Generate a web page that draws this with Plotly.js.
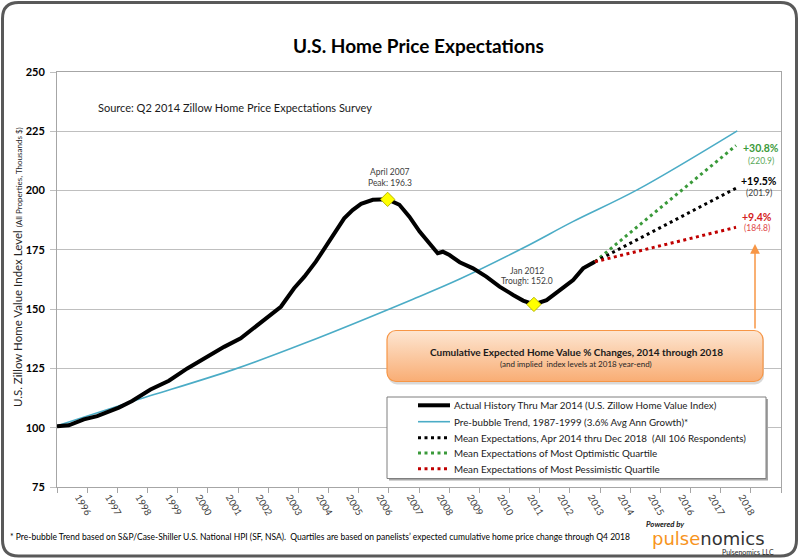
<!DOCTYPE html>
<html>
<head>
<meta charset="utf-8">
<script src="https://cdn.plot.ly/plotly-3.0.1.min.js"></script>
<style>
  html, body { margin: 0; padding: 0; background: #fff; }
  #chart { width: 800px; height: 559px; }
</style>
</head>
<body>
<div id="chart"></div>
<script>
// values (x in decimal years on the chart's axis)
const histYears = [1996.00, 1996.39, 1996.89, 1997.33, 1998.05, 1998.49, 1999.10, 1999.71, 2000.32, 2000.87,
  2001.54, 2002.09, 2002.64, 2003.42, 2003.86, 2004.20, 2004.58, 2005.03, 2005.52, 2005.80,
  2006.08, 2006.47, 2006.80, 2006.96, 2007.35, 2007.68, 2008.02, 2008.35, 2008.62, 2008.79,
  2009.01, 2009.35, 2009.79, 2010.23, 2010.67, 2011.12, 2011.45, 2011.81, 2012.23, 2012.67,
  2013.11, 2013.44, 2013.83];
const histValues = [100.6, 101.0, 103.5, 104.9, 108.5, 111.3, 116.1, 119.8, 125.0, 129.2,
  134.1, 137.7, 143.3, 151.0, 158.8, 163.7, 170.0, 179.1, 188.3, 191.8,
  194.4, 196.1, 196.1, 196.3, 194.0, 189.0, 182.7, 177.8, 173.6, 174.2,
  172.8, 169.8, 167.2, 163.7, 159.5, 156.0, 153.6, 152.0, 153.8, 158.0,
  162.3, 167.2, 170.0];

const trendYears = [1996.00, 1998.55, 2001.87, 2004.20, 2007.78, 2009.35, 2011.50, 2013.10, 2015.23, 2018.55];
const trendValues = [100.8, 111.3, 124.6, 135.6, 154.1, 162.7, 176.1, 186.9, 200.3, 225.2];

const forecastYears = [2013.83, 2018.51];
const meanValues = [170.0, 201.0];
const optimisticValues = [170.0, 219.0];
const pessimisticValues = [170.0, 184.5];

const markerYears = [2006.96, 2011.81];
const markerValues = [196.3, 152.0];

const yearLabels = ['1996', '1997', '1998', '1999', '2000', '2001', '2002', '2003', '2004', '2005', '2006',
  '2007', '2008', '2009', '2010', '2011', '2012', '2013', '2014', '2015', '2016', '2017', '2018'];
const yearBoundaries = [1996, 1997, 1998, 1999, 2000, 2001, 2002, 2003, 2004, 2005, 2006, 2007, 2008,
  2009, 2010, 2011, 2012, 2013, 2014, 2015, 2016, 2017, 2018, 2019, 2020];

const legendNames = [
  'Actual History Thru Mar 2014 (U.S. Zillow Home Value Index)',
  'Pre-bubble Trend, 1987-1999 (3.6% Avg Ann Growth)*',
  'Mean Expectations, Apr 2014 thru Dec 2018 \u00a0(All 106 Respondents)',
  'Mean Expectations of Most Optimistic Quartile',
  'Mean Expectations of Most Pessimistic Quartile'
];
const pctLabels = ['+30.8%', '+19.5%', '+9.4%'];
const levelLabels = ['(220.9)', '(201.9)', '(184.8)'];

const FONT = 'Lato, "Open Sans", sans-serif';
const W = 800, H = 559;
const M = { l: 57, r: 19, t: 72, b: 72 };
const plotW = W - M.l - M.r;
const plotH = H - M.t - M.b;
const px = (x) => (x - M.l) / plotW;
const py = (y) => (H - M.b - y) / plotH;

const lineHist = { color: '#000000', width: 4 };
const lineTrend = { color: '#4bacc6', width: 1.6, shape: 'spline' };
const lineMean = { color: '#000000', width: 3, dash: '3px,3.5px' };
const lineOpt = { color: '#3a9a3a', width: 3, dash: '3px,3.5px' };
const linePess = { color: '#c00000', width: 3, dash: '3px,3.5px' };

const traces = [
  { x: trendYears, y: trendValues, mode: 'lines', line: lineTrend, hoverinfo: 'skip' },
  { x: histYears, y: histValues, mode: 'lines', line: lineHist, hoverinfo: 'skip' },
  { x: forecastYears, y: optimisticValues, mode: 'lines', line: lineOpt, hoverinfo: 'skip' },
  { x: forecastYears, y: meanValues, mode: 'lines', line: lineMean, hoverinfo: 'skip' },
  { x: forecastYears, y: pessimisticValues, mode: 'lines', line: linePess, hoverinfo: 'skip' },
  {
    x: markerYears, y: markerValues, mode: 'markers', hoverinfo: 'skip',
    marker: { symbol: 'diamond', size: 11, color: '#ffff00', line: { color: '#b8b800', width: 1 } }
  }
];

const roundRect = (x0, y0, x1, y1, r) => {
  const p = (x, y) => px(x) + ',' + py(y);
  return 'M' + p(x0 + r, y0) + ' L' + p(x1 - r, y0) + ' Q' + p(x1, y0) + ' ' + p(x1, y0 + r) +
    ' L' + p(x1, y1 - r) + ' Q' + p(x1, y1) + ' ' + p(x1 - r, y1) +
    ' L' + p(x0 + r, y1) + ' Q' + p(x0, y1) + ' ' + p(x0, y1 - r) +
    ' L' + p(x0, y0 + r) + ' Q' + p(x0, y0) + ' ' + p(x0 + r, y0) + ' Z';
};

const ann = (x, y, text, font, opts = {}) => Object.assign({
  xref: 'paper', yref: 'paper', x: px(x), y: py(y), text, showarrow: false,
  xanchor: 'center', yanchor: 'middle', font: Object.assign({ family: FONT, size: 10, color: '#000' }, font)
}, opts);

const shapes = [
  // outer frame
  { type: 'path', xref: 'paper', yref: 'paper', layer: 'above', path: roundRect(2.5, 2.5, 796.5, 556, 16),
    line: { color: '#595959', width: 3 }, fillcolor: 'rgba(0,0,0,0)' },
  // legend box shadow + box
  { type: 'rect', xref: 'paper', yref: 'paper', layer: 'above', x0: px(389), x1: px(768), y0: py(399), y1: py(480.5),
    line: { width: 0 }, fillcolor: '#a6a6a6' },
  { type: 'rect', xref: 'paper', yref: 'paper', layer: 'above', x0: px(387), x1: px(766), y0: py(397), y1: py(478.5),
    line: { color: '#7f7f7f', width: 1 }, fillcolor: '#ffffff' }
];

const legendRows = [405.3, 421.7, 437.7, 453, 468.7];
const legendLines = [lineHist, lineTrend, lineMean, lineOpt, linePess];
legendRows.forEach((y, i) => {
  const l = legendLines[i];
  shapes.push({
    type: 'line', xref: 'paper', yref: 'paper', layer: 'above',
    x0: px(418), x1: px(450), y0: py(y), y1: py(y),
    line: { color: l.color, width: l.width, dash: l.dash || 'solid' }
  });
});

const annotations = [
  ann(418.5, 45, 'U.S. Home Price Expectations', { size: 19, weight: 'bold' }),
  ann(96, 107, 'Source: Q2 2014 Zillow Home Price Expectations Survey', { size: 11, color: '#1a1a1a' }, { xanchor: 'left' }),
  ann(17, 267, 'U.S. Zillow Home Value Index Level <span style="font-size:8px">(All Properties, Thousands $)</span>',
    { size: 11.5, color: '#262626' }, { textangle: -90 }),
  ann(390, 172.3, 'April 2007', { size: 8.5, color: '#404040' }),
  ann(390, 182.7, 'Peak: 196.3', { size: 8.5, color: '#404040' }),
  ann(527, 270.7, 'Jan 2012', { size: 8.5, color: '#404040' }),
  ann(527, 280.7, 'Trough: 152.0', { size: 8.5, color: '#404040' }),
  ann(761, 148.3, pctLabels[0], { size: 10.5, weight: 'bold', color: '#3a9a3a' }),
  ann(761, 160.7, levelLabels[0], { size: 8.5, color: '#5aa85a' }),
  ann(759, 180.7, pctLabels[1], { size: 10.5, weight: 'bold', color: '#000' }),
  ann(759, 192.7, levelLabels[1], { size: 8.5, color: '#404040' }),
  ann(757, 216.7, pctLabels[2], { size: 10.5, weight: 'bold', color: '#d42020' }),
  ann(757, 228.3, levelLabels[2], { size: 8.5, color: '#e04848' }),
  ann(576, 352.3, 'Cumulative Expected Home Value % Changes, 2014 through 2018', { size: 10, weight: 'bold', color: '#1a1a1a' }),
  ann(576, 363.7, '(and implied \u00a0index levels at 2018 year-end)', { size: 8, color: '#262626' }),
  ann(8, 537, '* Pre-bubble Trend based on S&P/Case-Shiller U.S. National HPI (SF, NSA). \u00a0Quartiles are based on panelists\u2019 expected cumulative home price change through Q4 2018',
    { size: 8.5, color: '#000' }, { xanchor: 'left' }),
  ann(665, 524, '<i>Powered by</i>', { size: 7.8, weight: 'bold', color: '#1a1a1a' }),
  ann(708, 538.5, '<span style="color:#f7941d">pulse</span><span style="color:#333333">nomics</span>',
    { size: 18, family: '"DejaVu Sans ExtraLight", "DejaVu Sans", sans-serif' }),
  ann(776, 551.5, 'Pulsenomics LLC', { size: 7, color: '#262626' }, { xanchor: 'right' }),
  // arrow from the callout up to the forecast labels
  {
    xref: 'paper', yref: 'paper', x: px(755), y: py(244), ax: 0, ay: 86, text: '',
    showarrow: true, arrowhead: 2, arrowsize: 1.3, arrowwidth: 1.5, arrowcolor: '#f79646', standoff: 0
  }
];

legendRows.forEach((y, i) => {
  annotations.push(ann(452, y, legendNames[i], { size: 9.8, color: '#1a1a1a' }, { xanchor: 'left' }));
});

const calloutSvg = '<svg xmlns="http://www.w3.org/2000/svg" width="380" height="56" viewBox="0 0 380 56">' +
  '<defs><linearGradient id="g" x1="0" y1="0" x2="0" y2="1">' +
  '<stop offset="0" stop-color="#fde6d2"/><stop offset="1" stop-color="#f9ad74"/></linearGradient></defs>' +
  '<rect x="2" y="3" width="376" height="52" rx="9" ry="9" fill="#d9d9d9"/>' +
  '<rect x="1" y="1" width="376" height="51" rx="9" ry="9" fill="url(#g)" stroke="#f79646" stroke-width="1.2"/>' +
  '</svg>';

const layout = {
  width: W, height: H,
  margin: M,
  paper_bgcolor: '#ffffff', plot_bgcolor: '#ffffff',
  font: { family: FONT, color: '#000' },
  showlegend: false,
  xaxis: {
    range: [1996, 2020], showgrid: false, zeroline: false,
    showline: true, linecolor: '#a6a6a6', linewidth: 1, mirror: true,
    tickmode: 'array', tickvals: yearLabels.map((s) => Number(s) + 0.72), ticktext: yearLabels,
    ticks: '', tickangle: 60, ticklabelstandoff: 0,
    tickfont: { family: FONT, size: 9.6, color: '#404040' },
    minor: { tickmode: 'array', tickvals: yearBoundaries, ticks: 'outside', ticklen: 5, tickcolor: '#a6a6a6', showgrid: false }
  },
  yaxis: {
    range: [75, 250], tick0: 75, dtick: 25, zeroline: false,
    showgrid: true, gridcolor: '#bfbfbf', gridwidth: 1,
    showline: true, linecolor: '#a6a6a6', linewidth: 1, mirror: true,
    ticks: 'outside', ticklen: 6, tickcolor: '#bfbfbf', ticklabelstandoff: 3,
    tickfont: { family: FONT, size: 11, color: '#000', weight: 'bold' }
  },
  shapes,
  annotations,
  images: [{
    source: 'data:image/svg+xml;charset=utf-8,' + encodeURIComponent(calloutSvg),
    xref: 'paper', yref: 'paper', x: px(386), y: py(329.5), sizex: 380 / plotW, sizey: 56 / plotH,
    xanchor: 'left', yanchor: 'top', sizing: 'stretch', layer: 'above'
  }]
};

Plotly.newPlot('chart', traces, layout, { displayModeBar: false, staticPlot: true });
</script>
</body>
</html>
